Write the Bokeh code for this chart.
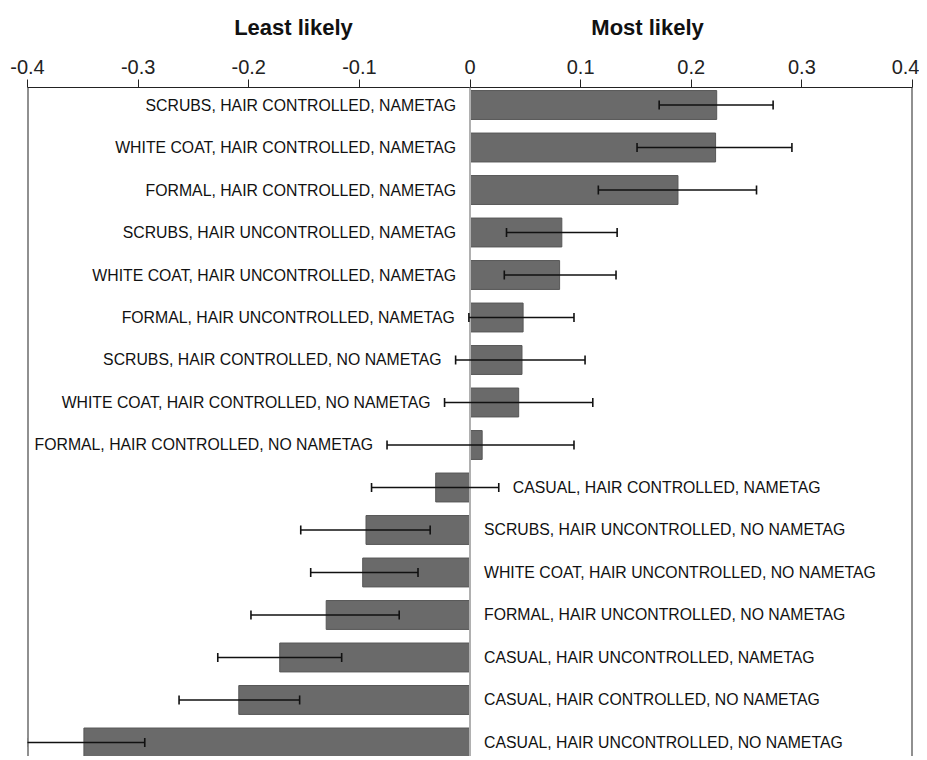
from bokeh.plotting import figure
from bokeh.layouts import column
from bokeh.models import ColumnDataSource, Range1d, FixedTicker, Span, Whisker, TeeHead
from bokeh.core.properties import value
from bokeh.embed import file_html
from bokeh.resources import INLINE

labels = [
    "SCRUBS, HAIR CONTROLLED, NAMETAG",
    "WHITE COAT, HAIR CONTROLLED, NAMETAG",
    "FORMAL, HAIR CONTROLLED, NAMETAG",
    "SCRUBS, HAIR UNCONTROLLED, NAMETAG",
    "WHITE COAT, HAIR UNCONTROLLED, NAMETAG",
    "FORMAL, HAIR UNCONTROLLED, NAMETAG",
    "SCRUBS, HAIR CONTROLLED, NO NAMETAG",
    "WHITE COAT, HAIR CONTROLLED, NO NAMETAG",
    "FORMAL, HAIR CONTROLLED, NO NAMETAG",
    "CASUAL, HAIR CONTROLLED, NAMETAG",
    "SCRUBS, HAIR UNCONTROLLED, NO NAMETAG",
    "WHITE COAT, HAIR UNCONTROLLED, NO NAMETAG",
    "FORMAL, HAIR UNCONTROLLED, NO NAMETAG",
    "CASUAL, HAIR UNCONTROLLED, NAMETAG",
    "CASUAL, HAIR CONTROLLED, NO NAMETAG",
    "CASUAL, HAIR UNCONTROLLED, NO NAMETAG",
]
values = [0.223, 0.222, 0.188, 0.083, 0.081, 0.048, 0.047, 0.044, 0.011,
          -0.031, -0.094, -0.097, -0.130, -0.172, -0.209, -0.349]
err_low = [0.171, 0.151, 0.116, 0.033, 0.031, -0.001, -0.013, -0.023, -0.075,
           -0.089, -0.153, -0.144, -0.198, -0.228, -0.263, -0.401]
err_high = [0.274, 0.291, 0.259, 0.133, 0.132, 0.094, 0.104, 0.111, 0.094,
            0.026, -0.036, -0.047, -0.064, -0.116, -0.154, -0.294]
xticks = [-0.4, -0.3, -0.2, -0.1, 0, 0.1, 0.2, 0.3, 0.4]
xtick_labels = ["-0.4", "-0.3", "-0.2", "-0.1", "0", "0.1", "0.2", "0.3", "0.4"]
side_titles = ["Least likely", "Most likely"]

TITLE_X = [-0.1596, 0.1605]
W = 919
ML, MR = 27, W - 912

rows = list(range(len(labels)))
pos_src = ColumnDataSource(dict(
    y=[r for r, v in zip(rows, values) if v >= 0],
    x=[min(0, lo) for v, lo in zip(values, err_low) if v >= 0],
    t=[l for l, v in zip(labels, values) if v >= 0]))
neg_src = ColumnDataSource(dict(
    y=[r for r, v in zip(rows, values) if v < 0],
    x=[max(0, hi) for v, hi in zip(values, err_high) if v < 0],
    t=[l for l, v in zip(labels, values) if v < 0]))
src = ColumnDataSource(dict(y=rows, v=values, lo=err_low, hi=err_high,
                            zero=[0] * len(rows)))

xr = Range1d(-0.4, 0.4)

# header with the two side titles
top = figure(width=W, height=42, output_backend="svg", toolbar_location=None,
             x_range=xr, y_range=Range1d(0, 42), x_axis_type=None, y_axis_type=None,
             min_border_left=ML, min_border_right=MR, min_border_top=0, min_border_bottom=0)
top.grid.visible = False
top.outline_line_color = None
top.text(x=TITLE_X, y=[15, 15], text=side_titles, text_align="center",
         text_baseline="alphabetic", text_font=value("Liberation Sans"),
         text_font_style="bold", text_font_size="22px", text_color="#111111")

p = figure(width=W, height=714, output_backend="svg", toolbar_location=None,
           x_range=xr, y_range=Range1d(15.33, -0.412),
           x_axis_location="above", min_border_left=ML, min_border_right=MR,
           min_border_top=45, min_border_bottom=0)
p.outline_line_color = None
p.grid.visible = False
p.yaxis.visible = False

ax = p.xaxis[0]
ax.ticker = FixedTicker(ticks=xticks)
ax.major_label_overrides = dict(zip(xticks, xtick_labels))
ax.major_tick_out = 8
ax.major_tick_in = 0
ax.minor_tick_line_color = None
ax.axis_line_color = "#222222"
ax.major_tick_line_color = "#222222"
ax.axis_line_width = 1.2
ax.major_label_standoff = 6
ax.major_label_text_font = "Liberation Sans"
ax.major_label_text_font_size = "20px"
ax.major_label_text_color = "#222222"

p.add_layout(Span(location=0, dimension="height", line_color="#b0b0b0", line_width=2))
p.hbar(y="y", left="zero", right="v", height=0.68, source=src,
       fill_color="#6a6a6a", line_color="#575757", line_width=1)
p.add_layout(Whisker(base="y", lower="lo", upper="hi", dimension="width", source=src,
                     level="overlay", line_color="#111111", line_width=1.3,
                     lower_head=TeeHead(size=9, line_color="#111111", line_width=1.6),
                     upper_head=TeeHead(size=9, line_color="#111111", line_width=1.6)))

p.text(x="x", y="y", text="t", source=pos_src, x_offset=-14, text_align="right",
       text_baseline="middle", text_font=value("Liberation Sans"),
       text_font_size="15.8px", text_color="#111111")
p.text(x="x", y="y", text="t", source=neg_src, x_offset=14, text_align="left",
       text_baseline="middle", text_font=value("Liberation Sans"),
       text_font_size="15.8px", text_color="#111111")

for xv in (-0.4, 0.4):
    p.add_layout(Span(location=xv, dimension="height", line_color="#222222", line_width=2))

layout = column(top, p, spacing=0)
open("out.html", "w").write(file_html(layout, INLINE))
